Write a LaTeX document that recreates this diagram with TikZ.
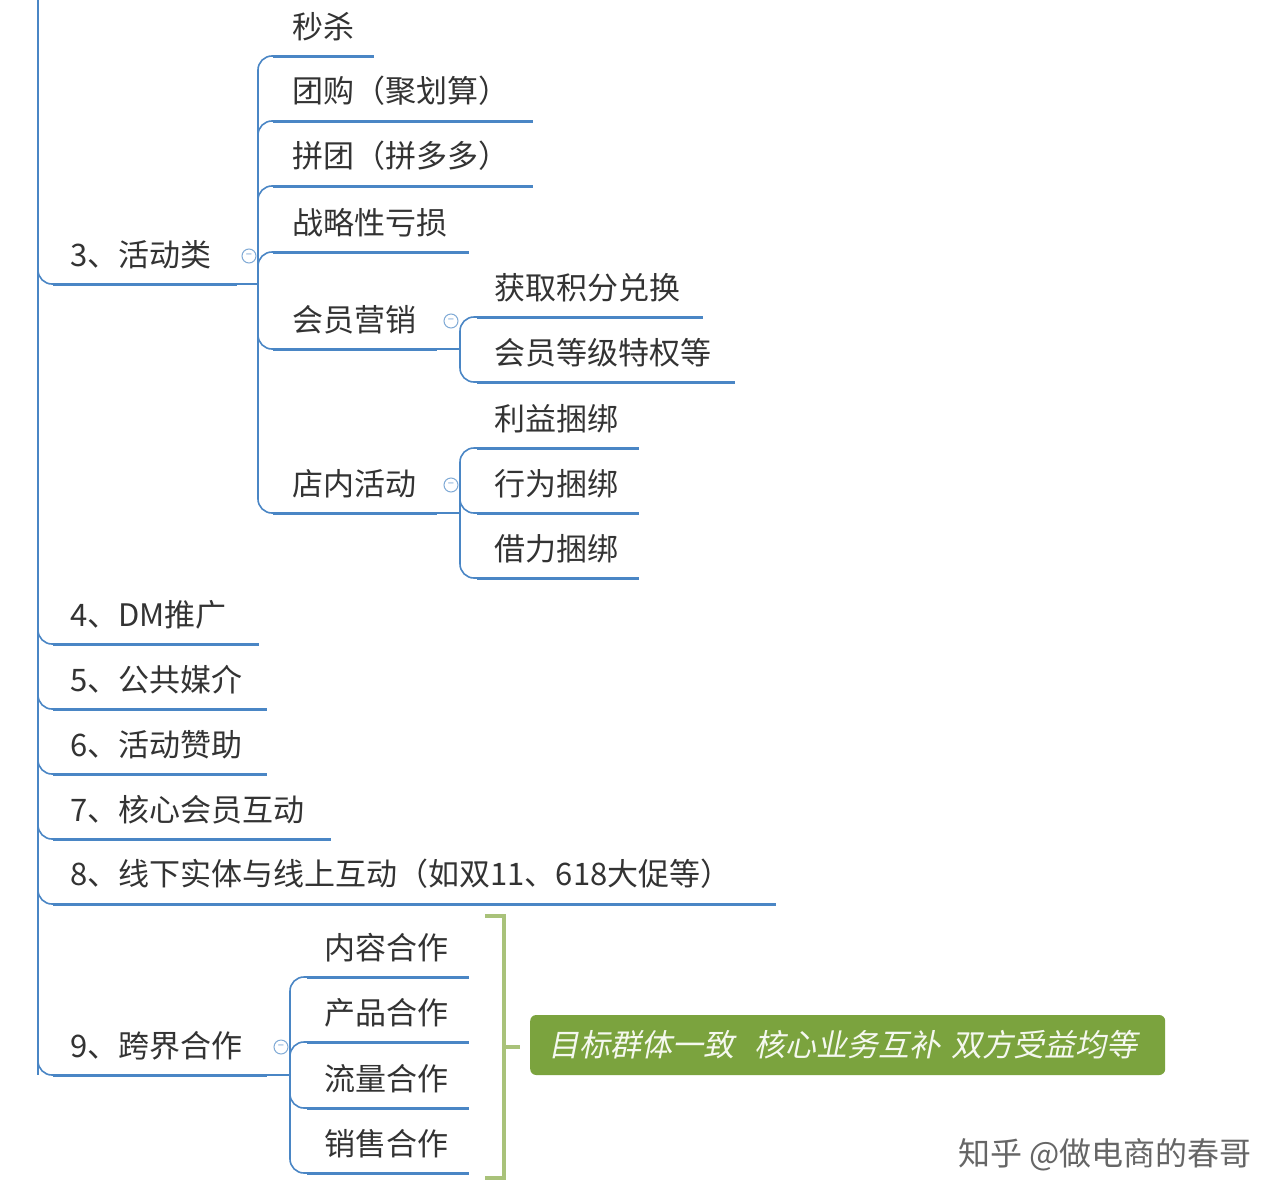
\documentclass[tikz,border=0pt]{standalone}
\usepackage{fontspec}
\setmainfont{Noto Sans CJK SC}
\newfontfamily\cjkit[FakeSlant=0.2]{Noto Sans CJK SC}
\definecolor{bl}{HTML}{4A86C5}
\definecolor{tx}{HTML}{333333}
\definecolor{gr}{HTML}{7BA33E}
\definecolor{brk}{HTML}{A9C27A}
\begin{document}
\begin{tikzpicture}[x=1pt,y=-1pt,
 lab/.style={anchor=south west,inner sep=0pt,text=tx,font=\fontsize{31}{36}\selectfont},
 ul/.style={draw=bl,line width=3pt},
 tr/.style={draw=bl,line width=1.6pt,rounded corners=14},
 col/.style={circle,draw=bl!70,line width=1pt,minimum size=14pt,inner sep=0pt,font=\fontsize{11}{11}\selectfont,text=bl!80}]
\useasboundingbox[fill=white] (0,0) rectangle (1280,1202);
% trunk
\coordinate (top) at (38,0);
\coordinate (bot) at (38,1075);
\draw[bl,line width=1.6pt] (top) -- (bot);
\foreach \n/\t/\y/\e in {a3/3、活动类/284/237, a4/4、DM推广/644/259, a5/5、公共媒介/709/267, a6/6、活动赞助/774/267, a7/7、核心会员互动/839/331, a8/{8、线下实体与线上互动（如双11、618大促等）}/904/776, a9/9、跨界合作/1075/267}{
  \node[lab] (\n) at (70,\y-15) {\t};
  \coordinate (\n s) at (53,\y);
  \coordinate (\n e) at (\e,\y);
  \draw[ul] (\n s) -- (\n e);
  \draw[tr] (38,\y-14) -- (38,\y) -- (\n s);
}
\node[col] (c3) at (249,256) {−};
\node[col] (cm) at (451,321) {−};
\node[col] (cd) at (451,485) {−};
\node[col] (c9) at (281,1047) {−};
\coordinate (f3) at (258,284);
\draw[bl,line width=1.6pt] (a3e) -- (f3);
\foreach \n/\t/\y/\e in {b1/秒杀/56/374, b2/团购（聚划算）/121/533, b3/拼团（拼多多）/186/533, b4/战略性亏损/252/469, b5/会员营销/349/437, b6/店内活动/513/437}{
  \node[lab] (\n) at (292,\y-15) {\t};
  \coordinate (\n s) at (273,\y);
  \coordinate (\n e) at (\e,\y);
  \draw[ul] (\n s) -- (\n e);
  \draw[tr] (f3) -- (258,\y) -- (\n s);
}
\coordinate (fm) at (460,349);
\draw[bl,line width=1.6pt] (b5e) -- (fm);
\foreach \n/\t/\y/\e in {m1/获取积分兑换/317/703, m2/会员等级特权等/382/735}{
  \node[lab] (\n) at (494,\y-15) {\t};
  \coordinate (\n s) at (477,\y);
  \coordinate (\n e) at (\e,\y);
  \draw[ul] (\n s) -- (\n e);
  \draw[tr] (fm) -- (460,\y) -- (\n s);
}
\coordinate (fd) at (460,513);
\draw[bl,line width=1.6pt] (b6e) -- (fd);
\foreach \n/\t/\y in {d1/利益捆绑/448, d2/行为捆绑/513, d3/借力捆绑/578}{
  \node[lab] (\n) at (494,\y-15) {\t};
  \coordinate (\n s) at (477,\y);
  \coordinate (\n e) at (639,\y);
  \draw[ul] (\n s) -- (\n e);
  \draw[tr] (fd) -- (460,\y) -- (\n s);
}
\coordinate (f9) at (290,1075);
\draw[bl,line width=1.6pt] (a9e) -- (f9);
\foreach \n/\t/\y in {k1/内容合作/977, k2/产品合作/1042, k3/流量合作/1108, k4/销售合作/1173}{
  \node[lab] (\n) at (324,\y-15) {\t};
  \coordinate (\n s) at (307,\y);
  \coordinate (\n e) at (469,\y);
  \draw[ul] (\n s) -- (\n e);
  \draw[tr] (f9) -- (290,\y) -- (\n s);
}
\coordinate (bt) at (485,916);
\coordinate (bb) at (485,1178);
\coordinate (bm) at (520,1047);
\draw[brk,line width=4pt] (bt) -- (504,916) -- (504,1178) -- (bb);
\draw[brk,line width=4pt] (504,1047) -- (bm);
\node[fill=gr,rounded corners=6,minimum width=635pt,minimum height=60pt,anchor=west,inner sep=0pt,text width=635pt,align=left,font=\cjkit\fontsize{31}{36}\selectfont,text=white!92!gr] (box) at (530,1045) {\hspace*{18pt}目标群体一致\ \ 核心业务互补 双方受益均等};
\node[anchor=east,text=black!60,font=\fontsize{32}{36}\selectfont,inner sep=0pt] (wm) at (1252,1155) {知乎 @做电商的春哥};
\end{tikzpicture}
\end{document}
